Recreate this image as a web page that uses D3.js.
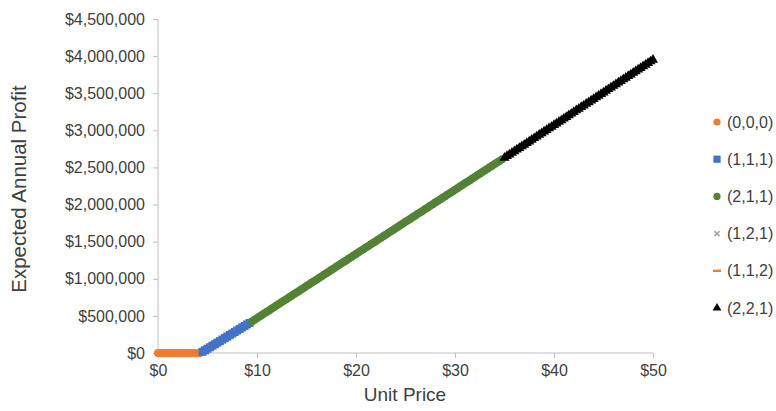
<!DOCTYPE html>
<html><head><meta charset="utf-8">
<script src="https://cdn.jsdelivr.net/npm/d3@7"></script>
<style>
body{margin:0;background:#fff;}
svg text{font-family:"Liberation Sans",Arial,sans-serif;fill:#404040;}
</style>
</head><body>
<svg id="chart" width="776" height="411"></svg>
<script>
// ---------- data ----------
const seriesNames = ["(0,0,0)","(1,1,1)","(2,1,1)","(1,2,1)","(1,1,2)","(2,2,1)"];

const price000 = [0,0.25,0.5,0.75,1,1.25,1.5,1.75,2,2.25,2.5,2.75,3,3.25,3.5,3.75,4,4.25];
const profit000 = [0,0,0,0,0,0,0,0,0,0,0,0,0,0,0,0,0,0];

const price111 = [4.5,4.75,5,5.25,5.5,5.75,6,6.25,6.5,6.75,7,7.25,7.5,7.75,8,8.25,8.5,8.75,9,9.25];
const profit111 = [16400,36900,57400,77900,98400,118900,139400,159900,180400,200900,221400,241900,262400,282900,303400,323900,344400,364900,385400,405900];

const price211 = [9.5,9.75,10,10.25,10.5,10.75,11,11.25,11.5,11.75,12,12.25,12.5,12.75,13,13.25,13.5,13.75,14,14.25,14.5,14.75,15,15.25,15.5,15.75,16,16.25,16.5,16.75,17,17.25,17.5,17.75,18,18.25,18.5,18.75,19,19.25,19.5,19.75,20,20.25,20.5,20.75,21,21.25,21.5,21.75,22,22.25,22.5,22.75,23,23.25,23.5,23.75,24,24.25,24.5,24.75,25,25.25,25.5,25.75,26,26.25,26.5,26.75,27,27.25,27.5,27.75,28,28.25,28.5,28.75,29,29.25,29.5,29.75,30,30.25,30.5,30.75,31,31.25,31.5,31.75,32,32.25,32.5,32.75,33,33.25,33.5,33.75,34,34.25,34.5,34.75];
const profit211 = [425950,447575,469200,490825,512450,534075,555700,577325,598950,620575,642200,663825,685450,707075,728700,750325,771950,793575,815200,836825,858450,880075,901700,923325,944950,966575,988200,1009825,1031450,1053075,1074700,1096325,1117950,1139575,1161200,1182825,1204450,1226075,1247700,1269325,1290950,1312575,1334200,1355825,1377450,1399075,1420700,1442325,1463950,1485575,1507200,1528825,1550450,1572075,1593700,1615325,1636950,1658575,1680200,1701825,1723450,1745075,1766700,1788325,1809950,1831575,1853200,1874825,1896450,1918075,1939700,1961325,1982950,2004575,2026200,2047825,2069450,2091075,2112700,2134325,2155950,2177575,2199200,2220825,2242450,2264075,2285700,2307325,2328950,2350575,2372200,2393825,2415450,2437075,2458700,2480325,2501950,2523575,2545200,2566825,2588450,2610075];

const price121 = [];
const profit121 = [];
const price112 = [];
const profit112 = [];

const price221 = [35,35.25,35.5,35.75,36,36.25,36.5,36.75,37,37.25,37.5,37.75,38,38.25,38.5,38.75,39,39.25,39.5,39.75,40,40.25,40.5,40.75,41,41.25,41.5,41.75,42,42.25,42.5,42.75,43,43.25,43.5,43.75,44,44.25,44.5,44.75,45,45.25,45.5,45.75,46,46.25,46.5,46.75,47,47.25,47.5,47.75,48,48.25,48.5,48.75,49,49.25,49.5,49.75,50];
const profit221 = [2630000,2652000,2674000,2696000,2718000,2740000,2762000,2784000,2806000,2828000,2850000,2872000,2894000,2916000,2938000,2960000,2982000,3004000,3026000,3048000,3070000,3092000,3114000,3136000,3158000,3180000,3202000,3224000,3246000,3268000,3290000,3312000,3334000,3356000,3378000,3400000,3422000,3444000,3466000,3488000,3510000,3532000,3554000,3576000,3598000,3620000,3642000,3664000,3686000,3708000,3730000,3752000,3774000,3796000,3818000,3840000,3862000,3884000,3906000,3928000,3950000];

const xTicks = [0,10,20,30,40,50];
const yTicks = [0,500000,1000000,1500000,2000000,2500000,3000000,3500000,4000000,4500000];
const xTitle = "Unit Price";
const yTitle = "Expected Annual Profit";

// ---------- styling ----------
const colors = ["#ED7D31","#4472C4","#548235","#A5A5A5","#ED7D31","#000000"];
const shapes = ["circle","square","circle","x","dash","triangle"];

const series = [
  {x: price000, y: profit000},
  {x: price111, y: profit111},
  {x: price211, y: profit211},
  {x: price121, y: profit121},
  {x: price112, y: profit112},
  {x: price221, y: profit221}
].map((s,i)=>({name: seriesNames[i], color: colors[i], shape: shapes[i],
   points: d3.zip(s.x, s.y)}));

const svg = d3.select("#chart");
const x = d3.scaleLinear().domain([0,50]).range([158,653]);
const y = d3.scaleLinear().domain([0,4500000]).range([353,19]);
const axisColor = "#BFBFBF";

const money = d => "$" + d3.format(",")(d);

const gy = svg.append("g").attr("transform","translate(158,0)")
  .call(d3.axisLeft(y).tickValues(yTicks).tickFormat(money).tickSize(5).tickPadding(8));
const gx = svg.append("g").attr("transform","translate(0,353)")
  .call(d3.axisBottom(x).tickValues(xTicks).tickFormat(money).tickSize(5).tickPadding(7));
[gx,gy].forEach(g=>{
  g.select(".domain").attr("stroke",axisColor).attr("stroke-width",1);
  g.selectAll(".tick line").attr("stroke",axisColor);
  g.selectAll(".tick text").attr("font-size",16).attr("fill","#404040")
   .style("font-family","'Liberation Sans',Arial,sans-serif");
});
gy.select(".domain").attr("d","M0,19V353");
gx.select(".domain").attr("d","M158,0H653");

svg.append("text").attr("x",405).attr("y",394).attr("text-anchor","middle")
  .attr("dominant-baseline","central").attr("font-size",19).text(xTitle);
svg.append("text").attr("transform","translate(18,189) rotate(-90)").attr("text-anchor","middle")
  .attr("dominant-baseline","central").attr("font-size",20.5).text(yTitle);

function drawMarker(g, shape, color, legendMode){
  const r = legendMode ? 3.6 : 4;
  if(shape==="circle") g.append("circle").attr("r",r).attr("fill",color);
  else if(shape==="square") g.append("rect").attr("x",-r).attr("y",-r).attr("width",2*r).attr("height",2*r).attr("fill",color);
  else if(shape==="triangle") g.append("path").attr("d",d3.symbol(d3.symbolTriangle,legendMode?34:44)()).attr("fill",color);
  else if(shape==="x") g.append("path").attr("d","M-2.5,-2.5L2.5,2.5M-2.5,2.5L2.5,-2.5").attr("stroke",color).attr("stroke-width",1.5);
  else if(shape==="dash") g.append("rect").attr("x",-4).attr("y",-1.2).attr("width",8).attr("height",2.4).attr("fill",color);
}

const plot = svg.append("g");
series.forEach(s=>{
  s.points.forEach(p=>{
    const g = plot.append("g").attr("transform",`translate(${x(p[0])},${y(p[1])})`);
    drawMarker(g, s.shape, s.color, false);
  });
});

// legend
const legend = svg.append("g");
series.forEach((s,i)=>{
  const ly = 122 + i*37.2;
  const g = legend.append("g").attr("transform",`translate(717,${ly})`);
  drawMarker(g, s.shape, s.color, true);
  legend.append("text").attr("x",727).attr("y",ly).attr("dominant-baseline","central")
    .attr("font-size",16).text(s.name);
});
</script>
</body></html>
